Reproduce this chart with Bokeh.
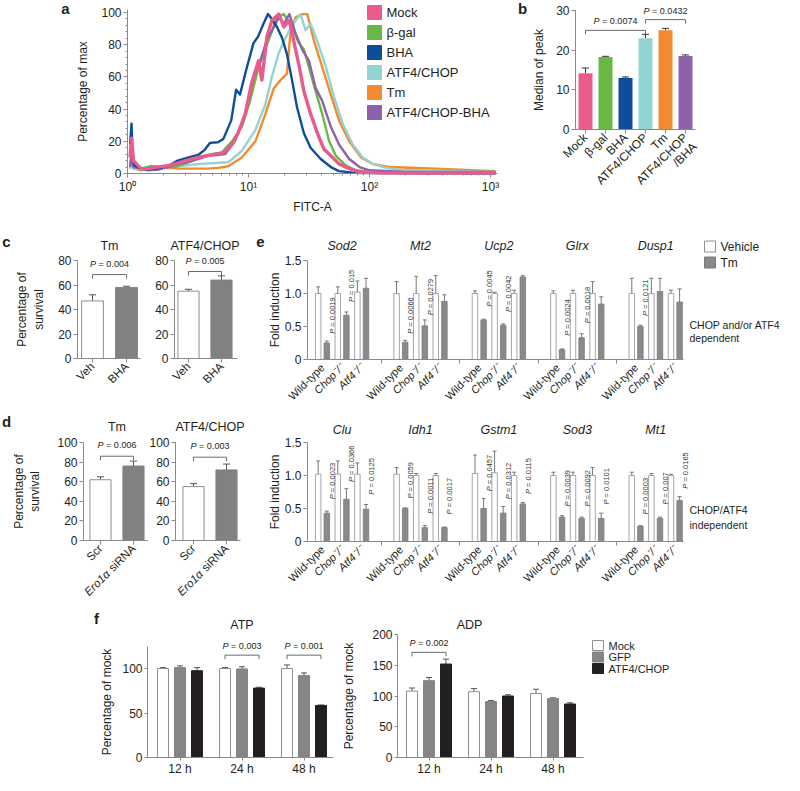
import math
from bokeh.plotting import figure
from bokeh.models import (Range1d, FixedTicker, Label, Whisker, TeeHead, ColumnDataSource,
                          CustomJSTickFormatter)
from bokeh.layouts import row, column
from bokeh.embed import file_html
from bokeh.resources import INLINE

FONT = "Liberation Sans"
TXT = "#231f20"
AXC = "#8a8a8a"
ERRC = "#555555"
R45 = math.pi / 4

# ---------------- panel a : FITC histograms ----------------
hist_names = ["Mock", "β-gal", "BHA", "ATF4/CHOP", "Tm", "ATF4/CHOP-BHA"]
hist_colors = ["#ea5a8c", "#69b845", "#0d4d9b", "#92d4d2", "#f28a2e", "#8e62a9"]

mock_x = [1.05, 1.08, 1.12, 1.29, 1.5, 1.78, 2.2, 2.6, 3.2, 3.83, 4.5, 5.3, 6.2, 7.3, 8.2, 9.4, 10.6, 12.1, 12.9, 14.2,
          15.6, 17.8, 19.6, 21.8, 23.7, 26.0, 28.7, 32.6, 37.1, 42.1, 47.9, 56.0, 68.0, 82.6, 120, 300, 1100]
mock_y = [10, 22, 8, 3, 3, 4, 5, 6.5, 8.5, 10, 11, 12, 13, 18, 25, 37, 56, 70, 58, 85,
          95, 99, 91, 95, 82, 68, 51, 37, 25, 15, 11, 6, 3, 1, 0.5, 0.3, 0.3]
bgal_x = [1.05, 1.08, 1.12, 1.3, 1.56, 2.0, 2.45, 3.2, 4.1, 5.0, 6.0, 7.3, 8.8, 10.3, 12.1, 14.7, 17.2, 19.6, 22.9, 26.0,
          28.7, 31.6, 35.9, 40.7, 46.4, 52.7, 63.6, 77.0, 100, 200, 1100]
bgal_y = [5, 14, 5, 3, 4.5, 4, 4, 7, 10, 12, 13, 20, 29, 45, 66, 83, 97, 99, 91, 81,
          77, 66, 51, 37, 20, 11, 5, 2, 1, 0.5, 0.3]
bha_x = [1.05, 1.08, 1.1, 1.14, 1.3, 1.5, 1.78, 2.2, 2.6, 3.2, 3.83, 4.35, 4.8, 5.6, 6.2, 7.2, 7.9, 8.5, 9.7, 11.0,
         12.0, 13.3, 14.5, 15.6, 17.2, 19.0, 20.8, 22.9, 25.2, 28.7, 32.6, 39.5, 47.9, 56.0, 72.7, 100, 300, 1100]
bha_y = [18, 31, 12, 5, 3, 2.5, 3, 5, 8, 10, 11.5, 14.7, 19, 19.4, 21.5, 33, 52, 49, 66, 81,
         85, 93, 99, 96, 91, 84, 74, 58, 41, 25, 16, 9, 4, 1.5, 0.5, 0.3, 0.2, 0.2]
atf_x = [1.05, 1.08, 1.12, 1.3, 1.56, 2.2, 2.96, 4.0, 5.3, 6.8, 8.8, 11.4, 13.8, 15.6, 17.8, 19.6, 21.8, 24.5, 26.9, 29.6,
         32.6, 37.1, 43.6, 51.2, 60.0, 72.7, 88.0, 106, 137, 190, 278, 500, 1100]
atf_y = [3, 6, 3, 2.5, 3, 4, 5, 6, 6.5, 7, 14, 27, 43, 60, 75, 82, 89, 95, 99, 89,
         93, 82, 66, 47, 31, 18, 10, 6, 3.5, 2, 2, 1.5, 1]
tm_x = [1.05, 1.08, 1.12, 1.3, 1.56, 2.0, 2.78, 3.5, 4.6, 5.6, 6.8, 8.8, 11.4, 13.8, 16.2, 18.4, 20.8, 22.2, 24.5, 27.8,
        30.6, 34.9, 40.7, 47.9, 56.0, 68.0, 85.0, 106, 147, 278, 500, 1100]
tm_y = [3, 8, 3, 2, 4, 3.5, 3, 3, 3, 3.5, 4.5, 10, 20, 37, 53, 58, 62, 87, 97, 99,
        99, 82, 66, 49, 33, 20, 10, 6, 4, 3.3, 2.5, 1.5]
atfbha_x = [1.05, 1.08, 1.12, 1.47, 1.8, 2.15, 2.6, 3.16, 3.8, 4.6, 5.5, 6.4, 7.7, 9.4, 11.4, 12.5, 14.2, 16.2, 17.8, 19.6,
            21.8, 24.5, 27.8, 31.6, 35.9, 40.7, 47.9, 56.0, 68.0, 82.6, 100, 200, 1100]
atfbha_y = [4, 10, 4, 2, 2.5, 4, 6, 7, 9, 11, 11.5, 12, 20, 37, 64, 70, 83, 91, 97, 93,
            99, 87, 77, 70, 53, 45, 29, 18, 9, 4, 2, 1, 1]
fitc_ticks = [1, 10, 100, 1000]
fitc_tick_labels = ["10⁰", "10¹", "10²", "10³"]

# ---------------- panel b ----------------
b_labels = [["Mock"], ["β-gal"], ["BHA"], ["ATF4/CHOP"], ["Tm"], ["ATF4/CHOP", "/BHA"]]
b_values = [14.2, 18.3, 13.0, 23.0, 25.0, 18.5]
b_errors = [1.3, 0.15, 0.25, 1.0, 0.5, 0.3]
b_pairs = [(0, 3), (3, 5)]
b_bracket_y = [25.0, 27.7]
b_ptext = ["P = 0.0074", "P = 0.0432"]

# ---------------- panels c, d ----------------
c_labels = ["Veh", "BHA"]
c_tm = [47, 58]
c_tm_err = [5, 1]
c_ac = [55, 64]
c_ac_err = [1.5, 3.5]
c_bracket_y = [68.5, 71]
c_ptext = ["P = 0.004", "P = 0.005"]

d_labels = ["Scr", ("Ero1α", "siRNA")]
d_tm = [62, 76]
d_tm_err = [3, 5]
d_ac = [55, 72]
d_ac_err = [3, 6]
d_bracket_y = [86, 85]
d_ptext = ["P = 0.006", "P = 0.003"]

# ---------------- panel e ----------------
genotypes = ["Wild-type", "Chop⁻/⁻", "Atf4⁻/⁻"]
e_top_genes = ["Sod2", "Mt2", "Ucp2", "Glrx", "Dusp1"]
e_top_veh = [[1.0, 1.0, 1.02], [1.0, 1.0, 1.0], [1.0, 1.0, 1.0], [1.0, 1.0, 1.0], [1.0, 1.0, 1.0]]
e_top_veh_err = [[0.1, 0.1, 0.17], [0.18, 0.26, 0.27], [0.04, 0.02, 0.05], [0.04, 0.05, 0.18], [0.23, 0.23, 0.05]]
e_top_tm = [[0.25, 0.67, 1.08], [0.26, 0.51, 0.88], [0.6, 0.52, 1.25], [0.15, 0.33, 0.84], [0.5, 1.03, 0.87]]
e_top_tm_err = [[0.03, 0.05, 0.15], [0.03, 0.09, 0.1], [0.01, 0.02, 0.02], [0.01, 0.06, 0.11], [0.02, 0.2, 0.2]]
e_top_p = [["P = 0.0019", "P = 0.015"], ["P = 0.0066", "P = 0.0279"], ["P = 0.0045", "P = 0.0042"],
           ["P = 0.0024", "P = 0.0018"], ["P = 0.0121"]]
e_top_p_y = [[0.39, 0.87], [0.39, 0.67], [0.8, 0.72], [0.36, 0.55], [0.66]]

e_bot_genes = ["Clu", "Idh1", "Gstm1", "Sod3", "Mt1"]
e_bot_veh = [[1.02, 1.02, 1.02], [1.02, 1.0, 1.0], [1.03, 1.04, 1.0], [1.0, 1.0, 1.0], [1.0, 1.0, 1.0]]
e_bot_veh_err = [[0.2, 0.2, 0.17], [0.1, 0.03, 0.03], [0.28, 0.33, 0.05], [0.05, 0.05, 0.12], [0.05, 0.03, 0.02]]
e_bot_tm = [[0.43, 0.64, 0.49], [0.5, 0.21, 0.21], [0.5, 0.43, 0.57], [0.37, 0.35, 0.35], [0.23, 0.35, 0.62]]
e_bot_tm_err = [[0.03, 0.16, 0.07], [0.01, 0.03, 0.01], [0.15, 0.1, 0.02], [0.02, 0.02, 0.08], [0.01, 0.02, 0.06]]
e_bot_p = [["P = 0.0023", "P = 0.0366", "P = 0.0125"], ["P = 0.0059", "P = 0.0011", "P = 0.0017"],
           ["P = 0.0457", "P = 0.0312", "P = 0.0115"], ["P = 0.0039", "P = 0.0092", "P = 0.0101"],
           ["P = 0.0003", "P = 0.007", "P = 0.0165"]]
e_bot_p_y = [[0.64, 0.9, 0.71], [0.65, 0.42, 0.41], [0.76, 0.64, 0.72], [0.53, 0.53, 0.56], [0.41, 0.56, 0.8]]

# ---------------- panel f ----------------
f_times = ["12 h", "24 h", "48 h"]
f_series = ["Mock", "GFP", "ATF4/CHOP"]
f_colors = ["#ffffff", "#858585", "#231f20"]
f_lines = ["#8f8f8f", "#858585", "#231f20"]
atp_vals = [[100, 100, 100], [101, 99.5, 92], [97.5, 78, 58.5]]
atp_errs = [[1, 1, 4], [2, 2.5, 3], [3.5, 1, 0.5]]
adp_vals = [[108, 107, 104], [125, 91, 96], [152, 100, 87]]
adp_errs = [[5, 5, 7], [5, 1.5, 1], [8, 2, 2]]
atp_brackets = [(1, 115, "P = 0.003"), (2, 115, "P = 0.001")]
adp_brackets = [(0, 171, "P = 0.002")]

# approximate advance widths (em) of Liberation Sans, used to set an italic "P" before its value
EM = {"P": 0.667, " ": 0.278, "=": 0.584, ".": 0.278}


def text_width(s, px):
    return sum(EM.get(ch, 0.556) for ch in s) * px


# ---------------- helpers ----------------
class Panel:
    """A figure whose frame is the whole canvas; data <-> local pixel mapping."""

    def __init__(self, w, h, xv, xp, yv, yp, xlog=False):
        lv = [math.log10(v) for v in xv] if xlog else list(xv)
        self.sx = (xp[1] - xp[0]) / (lv[1] - lv[0])
        self.x0 = lv[0] - xp[0] / self.sx
        x1 = self.x0 + w / self.sx
        self.sy = (yp[0] - yp[1]) / (yv[1] - yv[0])
        self.ytop = yv[1] + yp[1] / self.sy
        ybot = self.ytop - h / self.sy
        self.xlog = xlog
        xr = Range1d(10 ** self.x0, 10 ** x1) if xlog else Range1d(self.x0, x1)
        self.p = figure(width=w, height=h, x_range=xr, y_range=Range1d(ybot, self.ytop),
                        x_axis_type="log" if xlog else "linear",
                        output_backend="svg", toolbar_location=None, min_border=0)
        p = self.p
        p.grid.visible = False
        p.outline_line_color = None
        for ax in p.axis:
            ax.axis_line_color = AXC
            ax.major_tick_line_color = AXC
            ax.minor_tick_line_color = None
            ax.major_tick_in = 0
            ax.major_tick_out = 4
            ax.major_label_standoff = 2
            ax.major_label_text_font = FONT
            ax.major_label_text_font_size = "12px"
            ax.major_label_text_color = TXT
            ax.axis_label_text_font = FONT
            ax.axis_label_text_font_size = "12px"
            ax.axis_label_text_font_style = "normal"
            ax.axis_label_text_color = TXT
            ax.axis_label_standoff = 5

    def x(self, px):
        v = self.x0 + px / self.sx
        return 10 ** v if self.xlog else v

    def y(self, py):
        return self.ytop - py / self.sy

    def axes(self, xloc, xbounds, yloc, ybounds):
        self.p.xaxis.fixed_location = xloc
        self.p.xaxis.bounds = xbounds
        self.p.yaxis.fixed_location = yloc
        self.p.yaxis.bounds = ybounds

    def hide_xlabels(self, ticks):
        self.p.xaxis.ticker = FixedTicker(ticks=ticks)
        self.p.xaxis.major_label_overrides = {t: "" for t in ticks}

    def text(self, x, y, text, size="11px", xo=0, yo=0, align="center", baseline="middle",
             style="normal", angle=0.0, color=TXT):
        self.p.add_layout(Label(x=x, y=y, x_offset=xo, y_offset=yo, text=text, text_font=FONT,
                                text_font_size=size, text_align=align, text_baseline=baseline,
                                text_font_style=style, angle=angle, text_color=color))

    def pvalue(self, x, y, s, px, yo=0.0, vertical=False, color=TXT):
        # "P" in italics followed by the rest of the string in roman
        head = text_width("P ", px)
        rest = s[1:].strip()
        size = "%.1fpx" % px
        if vertical:
            self.text(x, y, "P", size=size, yo=yo, align="left", angle=math.pi / 2,
                      style="italic", color=color)
            self.text(x, y, rest, size=size, yo=yo + head, align="left", angle=math.pi / 2,
                      color=color)
        else:
            left = -text_width(s, px) / 2
            self.text(x, y, "P", size=size, xo=left, yo=yo, align="left", style="italic", color=color)
            self.text(x, y, rest, size=size, xo=left + head, yo=yo, align="left", color=color)

    def slanted(self, x, text, size="12px", style="normal", shift=0.0, back=0.0):
        # 45-degree label whose right end sits under the tick at x;
        # shift moves across the text line (px), back moves along it (px)
        c = math.cos(R45)
        self.text(x, 0, text, size=size, xo=c * shift - c * back, yo=-6 - c * shift - c * back,
                  align="right", angle=R45, style=style)

    def ptext(self, px, py, text, **kw):
        self.text(self.x(px), self.y(py), text, **kw)

    def letter(self, px, py, t):
        self.ptext(px, py, t, size="15px", style="bold")

    def swatches(self, names, fills, lines, px0, px1, centers, hh, lx, size):
        self.p.quad(left=[self.x(px0)] * len(names), right=[self.x(px1)] * len(names),
                    top=[self.y(c - hh) for c in centers], bottom=[self.y(c + hh) for c in centers],
                    fill_color=fills, line_color=lines, line_width=1)
        for n, c in zip(names, centers):
            self.ptext(lx, c, n, size=size, align="left")


def errbars(p, xs, tops, errs, head=6, color=ERRC):
    src = ColumnDataSource(dict(x=list(xs), lo=list(tops), hi=[t + e for t, e in zip(tops, errs)]))
    p.add_layout(Whisker(source=src, base="x", lower="lo", upper="hi", dimension="height",
                         line_color=color, line_width=1,
                         upper_head=TeeHead(size=head, line_color=color, line_width=1),
                         lower_head=None))


def bracket(P, x1, x2, y, drop_px, text, px=9, yo=9):
    drop = drop_px / P.sy
    P.p.line([x1, x1, x2, x2], [y - drop, y, y, y - drop], line_color="#6a6a6a", line_width=1)
    P.pvalue((x1 + x2) / 2, y, text, px, yo=yo)


# ---------------- panel a ----------------
A = Panel(510, 232, (1, 1000), (127, 490), (0, 100), (173, 12), xlog=True)
pa = A.p
series_x = [mock_x, bgal_x, bha_x, atf_x, tm_x, atfbha_x]
series_y = [mock_y, bgal_y, bha_y, atf_y, tm_y, atfbha_y]
for i in [4, 3, 1, 5, 2, 0]:
    pa.line(series_x[i], series_y[i], line_color=hist_colors[i],
            line_width=3.4 if i == 0 else 2.4, line_join="round")
A.axes(0, (1, 1150), 1, (0, 102))
pa.xaxis.ticker = FixedTicker(ticks=fitc_ticks,
                              minor_ticks=[m * d for d in (1, 10, 100) for m in range(2, 10)])
pa.xaxis.major_label_overrides = dict(zip(fitc_ticks, fitc_tick_labels))
pa.yaxis.ticker = FixedTicker(ticks=[0, 20, 40, 60, 80, 100],
                              minor_ticks=[v for v in range(0, 101, 4) if v % 20])
for ax in pa.axis:
    ax.minor_tick_line_color = AXC
    ax.minor_tick_in = 0
    ax.minor_tick_out = 2
pa.xaxis.axis_label = "FITC-A"
pa.xaxis.axis_label_standoff = 3
pa.yaxis.axis_label = "Percentage of max"
pa.yaxis.axis_label_standoff = 8
A.swatches(hist_names, hist_colors, hist_colors, 367, 381, [12, 32, 52, 72, 92, 112], 7, 386, "13px")
A.letter(65, 8, "a")

# ---------------- panel b ----------------
B = Panel(274, 232, (0, 5), (75, 175), (0, 30), (129, 10))
pb = B.p
bx = list(range(len(b_values)))
pb.vbar(x=bx, top=b_values, width=0.7, fill_color=hist_colors, line_color=None)
errbars(pb, bx, b_values, b_errors, head=7, color="#333333")
for (i1, i2), yb, t in zip(b_pairs, b_bracket_y, b_ptext):
    bracket(B, i1, i2, yb, 4, t, yo=9)
B.axes(0, (-0.5, 5.5), -0.5, (0, 30))
B.hide_xlabels(bx)
for i, lines in enumerate(b_labels):
    for j, line in enumerate(lines):
        B.slanted(i, line, shift=13 * j)
pb.yaxis.ticker = FixedTicker(ticks=[0, 10, 20, 30])
pb.yaxis.axis_label = "Median of peak"
pb.yaxis.axis_label_standoff = 7
B.letter(12, 8, "b")


# ---------------- panels c & d ----------------
def survival(w, h, xp, yv, yp, xb, yticks, labels, vals, errs, by, ptxt, title, title_py,
             ylabel=None, ylabel_standoff=9):
    P = Panel(w, h, (0, 1), xp, yv, yp)
    p = P.p
    p.vbar(x=[0], top=[vals[0]], width=0.64, fill_color="white", line_color="#8f8f8f")
    p.vbar(x=[1], top=[vals[1]], width=0.64, fill_color="#818181", line_color="#818181")
    errbars(p, [0, 1], vals, errs, head=7)
    bracket(P, 0, 1, by, 4, ptxt, yo=11)
    P.axes(0, xb, xb[0], (0, yv[1]))
    P.hide_xlabels([0, 1])
    for i, lab in enumerate(labels):
        if isinstance(lab, tuple):
            # italic gene name followed by plain text, both on one slanted line
            P.slanted(i, lab[1], size="11.5px")
            P.slanted(i, lab[0], size="11.5px", style="italic", back=36)
        else:
            P.slanted(i, lab, size="11.5px")
    p.yaxis.ticker = FixedTicker(ticks=yticks)
    if ylabel:
        p.yaxis.axis_label = ylabel
        p.yaxis.axis_label_standoff = ylabel_standoff
    P.text(0.5, P.y(title_py), title, size="12.5px")
    return P


C1 = survival(145, 178, (92, 126), (0, 80), (126, 28), (-0.441, 1.412), [0, 20, 40, 60, 80],
              c_labels, c_tm, c_tm_err, c_bracket_y[0], c_ptext[0], "Tm", 13,
              ylabel="Percentage of\nsurvival", ylabel_standoff=9)
C1.letter(6, 9, "c")
C2 = survival(103, 178, (43, 76), (0, 80), (126, 28), (-0.424, 1.485), [0, 20, 40, 60, 80],
              c_labels, c_ac, c_ac_err, c_bracket_y[1], c_ptext[1], "ATF4/CHOP", 13)

D1 = survival(148, 192, (100, 133), (0, 100), (130, 32), (-0.515, 1.455), [0, 20, 40, 60, 80, 100],
              d_labels, d_tm, d_tm_err, d_bracket_y[0], d_ptext[0], "Tm", 16,
              ylabel="Percentage of\nsurvival", ylabel_standoff=12)
D1.letter(6, 11, "d")
D2 = survival(100, 192, (45, 78), (0, 100), (130, 32), (-0.545, 1.424), [0, 20, 40, 60, 80, 100],
              d_labels, d_ac, d_ac_err, d_bracket_y[1], d_ptext[1], "ATF4/CHOP", 16)

# ---------------- panel e ----------------
E_XB = (-0.765, 18.42)


def panel_e(h, y0px, y15px, genes, veh, veh_err, tm, tm_err, ptxt, pys, title_py, side, side_py):
    P = Panel(536, h, (0, 1), (74, 93.6), (0, 1.5), (y0px, y15px))
    p = P.p
    P.axes(0, E_XB, E_XB[0], (0, 1.5))
    p.yaxis.ticker = FixedTicker(ticks=[0, 0.5, 1.0, 1.5])
    p.yaxis.formatter = CustomJSTickFormatter(code="return tick == 0 ? '0' : tick.toFixed(1);")
    p.yaxis.axis_label = "Fold induction"
    p.yaxis.axis_label_standoff = 0
    P.hide_xlabels([3, 7, 11, 15])
    wx, gx, vv, ve, tv, te = [], [], [], [], [], []
    for g in range(len(genes)):
        for k in range(3):
            u = 4 * g + k
            wx.append(u - 0.22)
            gx.append(u + 0.22)
            vv.append(veh[g][k])
            ve.append(veh_err[g][k])
            tv.append(tm[g][k])
            te.append(tm_err[g][k])
            P.slanted(u, genotypes[k], size="11px", style="normal" if k == 0 else "italic")
        for k, (t, yy) in enumerate(zip(ptxt[g], pys[g])):
            P.pvalue(4 * g + k + 0.5, yy, t, 7.5, vertical=True, color="#333333")
        P.text(4 * g + 1, P.y(title_py), genes[g], size="12.5px", style="italic")
    p.vbar(x=wx, top=vv, width=0.28, fill_color="white", line_color="#8f8f8f", line_width=0.8)
    p.vbar(x=gx, top=tv, width=0.28, fill_color="#8a8a8a", line_color="#7a7a7a", line_width=0.8)
    errbars(p, wx, vv, ve, head=4, color="#777777")
    errbars(p, gx, tv, te, head=4, color="#777777")
    for t, py in zip(side, side_py):
        P.ptext(441, py, t, size="10.5px", align="left")
    return P


E1 = panel_e(178, 127, 28, e_top_genes, e_top_veh, e_top_veh_err, e_top_tm, e_top_tm_err,
             e_top_p, e_top_p_y, 13, ["CHOP and/or ATF4", "dependent"], [92, 105])
E1.swatches(["Vehicle", "Tm"], ["white", "#8a8a8a"], ["#8f8f8f", "#7a7a7a"], 456, 467, [14, 30], 5.5, 472, "12px")
E1.letter(12, 9, "e")
E2 = panel_e(192, 131, 32, e_bot_genes, e_bot_veh, e_bot_veh_err, e_bot_tm, e_bot_tm_err,
             e_bot_p, e_bot_p_y, 19, ["CHOP/ATF4", "independent"], [99, 114])


# ---------------- panel f ----------------
def energy(w, xp, yv, yp, xb, yb, yticks, vals, errs, brs, title, title_px, ylab_standoff):
    P = Panel(w, 173, (0, 1), xp, yv, yp)
    p = P.p
    offs = [-0.274, 0.0, 0.274]
    for s in range(3):
        xs = [t + offs[s] for t in range(3)]
        p.vbar(x=xs, top=vals[s], width=0.177, fill_color=f_colors[s], line_color=f_lines[s])
        errbars(p, xs, vals[s], errs[s], head=6)
    for t, yb_, txt in brs:
        bracket(P, t - 0.274, t + 0.274, yb_, 4, txt, yo=9)
    P.axes(0, xb, xb[0], yb)
    p.xaxis.ticker = FixedTicker(ticks=[0, 1, 2])
    p.xaxis.major_label_overrides = dict(zip([0, 1, 2], f_times))
    p.yaxis.ticker = FixedTicker(ticks=yticks)
    for ax in p.axis:
        ax.major_tick_out = 3
    p.xaxis.major_label_standoff = 1
    p.yaxis.axis_label = "Percentage of mock"
    p.yaxis.axis_label_standoff = ylab_standoff
    P.ptext(title_px, 22, title, size="12.5px")
    return P


FA = energy(343, (179.5, 241.5), (0, 100), (155, 66), (-0.524, 2.476), (0, 125), [0, 50, 100],
            atp_vals, atp_errs, atp_brackets, "ATP", 241.5, 5)
FA.letter(96, 16, "f")
FD = energy(441, (85.5, 147.5), (0, 200), (155, 32), (-0.508, 2.49), (0, 200), [0, 50, 100, 150, 200],
            adp_vals, adp_errs, adp_brackets, "ADP", 126, 13)
FD.swatches(f_series, f_colors, f_lines, 249, 260, [43, 54.5, 66], 5, 265, "11px")

layout = column(row(A.p, B.p), row(C1.p, C2.p, E1.p), row(D1.p, D2.p, E2.p), row(FA.p, FD.p))

with open("out.html", "w") as fh:
    fh.write(file_html(layout, INLINE))
